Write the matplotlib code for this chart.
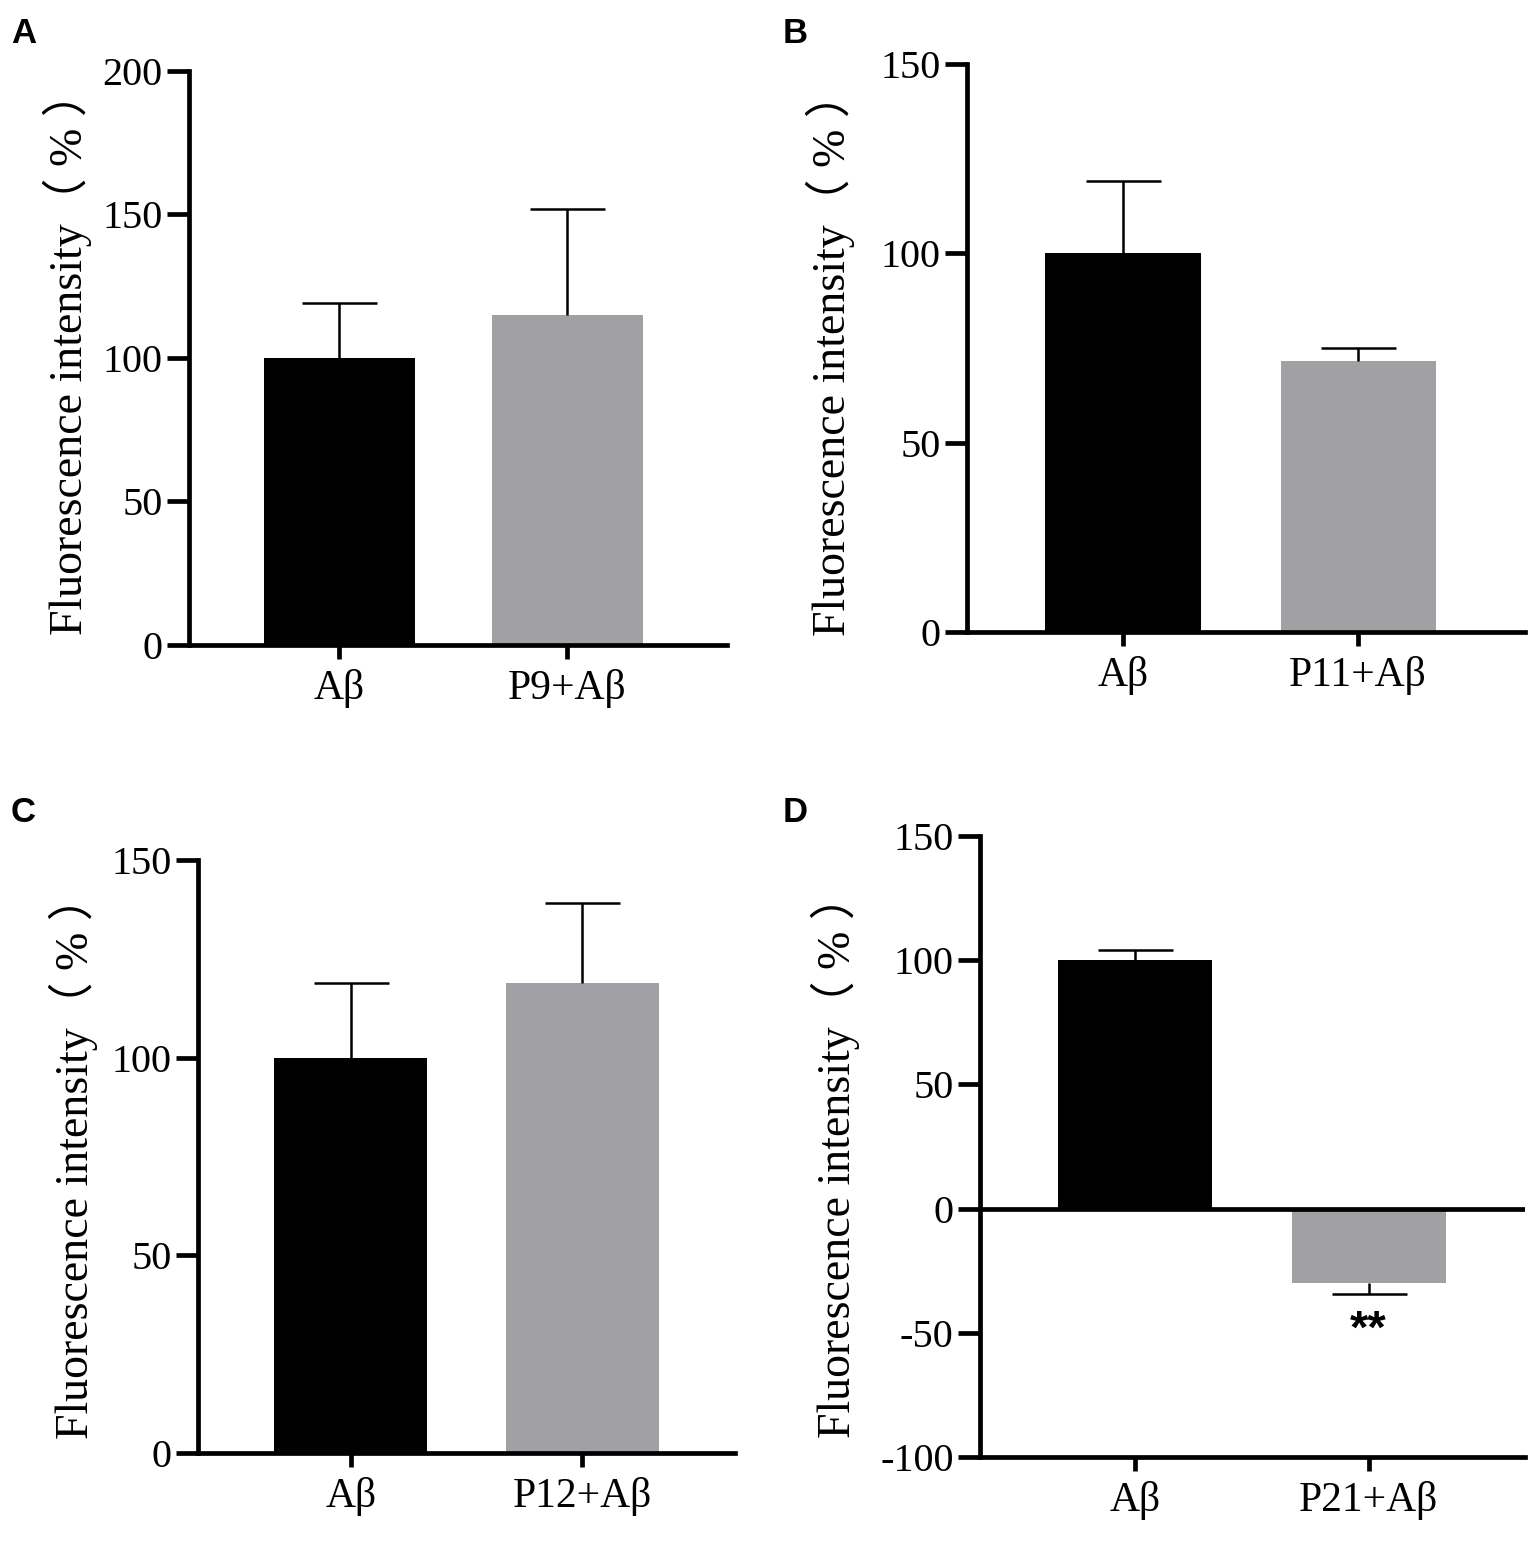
"""
Fluorescence intensity of Aβ alone vs. peptide + Aβ (panels A-D).
Bar heights and one-sided SD bars are read off the published figure.
"""

import matplotlib
matplotlib.use("Agg")
import matplotlib.pyplot as plt

plt.rcParams['font.family'] = ['Liberation Serif', 'Noto Sans CJK SC', 'DejaVu Sans']

# data
groups_A = ['Aβ', 'P9+Aβ']
means_A = [100.0, 115.0]
sd_A = [19.0, 37.0]

groups_B = ['Aβ', 'P11+Aβ']
means_B = [100.0, 71.5]
sd_B = [19.0, 3.5]

groups_C = ['Aβ', 'P12+Aβ']
means_C = [100.0, 119.0]
sd_C = [19.0, 20.0]

groups_D = ['Aβ', 'P21+Aβ']
means_D = [100.0, -30.0]
sd_D = [4.0, 4.5]

ylim_A = (0, 200)
ylim_B = (0, 150)
ylim_C = (0, 150)
ylim_D = (-100, 150)
yticks_A = [0, 50, 100, 150, 200]
yticks_B = [0, 50, 100, 150]
yticks_C = [0, 50, 100, 150]
yticks_D = [-100, -50, 0, 50, 100, 150]

BAR_COLORS = ['#000000', '#a1a0a5']
YLABEL = 'Fluorescence intensity（ % ）'
LW = 3.4


def draw_panel(ax, groups, means, sds, ylim, yticks, xlim):
    x = list(range(len(groups)))
    ax.bar(x, means, width=0.66, color=BAR_COLORS, zorder=2)
    # one-sided error bars, pointing away from zero, cap only at the far end
    for xi, m, s in zip(x, means, sds):
        err = [[0], [s]] if m >= 0 else [[s], [0]]
        _, caps, _ = ax.errorbar([xi], [m], yerr=err, fmt='none', ecolor='black',
                                 elinewidth=1.8, capsize=27, capthick=1.8, zorder=3)
        near = 0 if m >= 0 else 1
        caps[near].set_visible(False)
    ax.set_xlim(*xlim)
    ax.set_ylim(*ylim)
    ax.set_yticks(yticks)
    ax.set_yticklabels([str(t) for t in yticks])
    ax.set_xticks(x)
    ax.set_xticklabels(groups)
    ax.spines['top'].set_visible(False)
    ax.spines['right'].set_visible(False)
    for side in ('left', 'bottom'):
        ax.spines[side].set_linewidth(LW)
    ax.tick_params(axis='y', length=16, width=LW, labelsize=29, pad=3)
    ax.tick_params(axis='x', length=10, width=LW, labelsize=30, pad=7)
    ax.set_ylabel(YLABEL, fontsize=33)


fig = plt.figure(figsize=(15.37, 15.42), dpi=100)

axA = fig.add_axes([0.1230, 0.5817, 0.3500, 0.3723])
axB = fig.add_axes([0.6291, 0.5901, 0.3631, 0.3684])
axC = fig.add_axes([0.1288, 0.0577, 0.3494, 0.3846])
axD = fig.add_axes([0.6376, 0.0551, 0.3546, 0.4027])

draw_panel(axA, groups_A, means_A, sd_A, ylim_A, yticks_A, (-0.66, 1.70))
draw_panel(axB, groups_B, means_B, sd_B, ylim_B, yticks_B, (-0.664, 1.71))
draw_panel(axC, groups_C, means_C, sd_C, ylim_C, yticks_C, (-0.66, 1.66))
draw_panel(axD, groups_D, means_D, sd_D, ylim_D, yticks_D, (-0.665, 1.67))

# panel D: zero baseline across the plot
axD.axhline(0, color='black', linewidth=LW, zorder=4)
axD.annotate('**', xy=(1, means_D[1] - sd_D[1]), xytext=(0, -10),
             textcoords='offset points', ha='center', va='top',
             fontsize=34, fontweight='bold', family='Liberation Sans')

axA.yaxis.set_label_coords(-0.180, 0.51)
axB.yaxis.set_label_coords(-0.200, 0.49)
axC.yaxis.set_label_coords(-0.186, 0.5)
axD.yaxis.set_label_coords(-0.220, 0.486)

for letter, (fx, fy) in zip('ABCD', [(0.007, 0.978), (0.509, 0.978),
                                     (0.007, 0.473), (0.509, 0.473)]):
    fig.text(fx, fy, letter, fontsize=25, fontweight='bold',
             family='Liberation Sans', ha='left', va='center')

fig.savefig('out.png', dpi=100)
